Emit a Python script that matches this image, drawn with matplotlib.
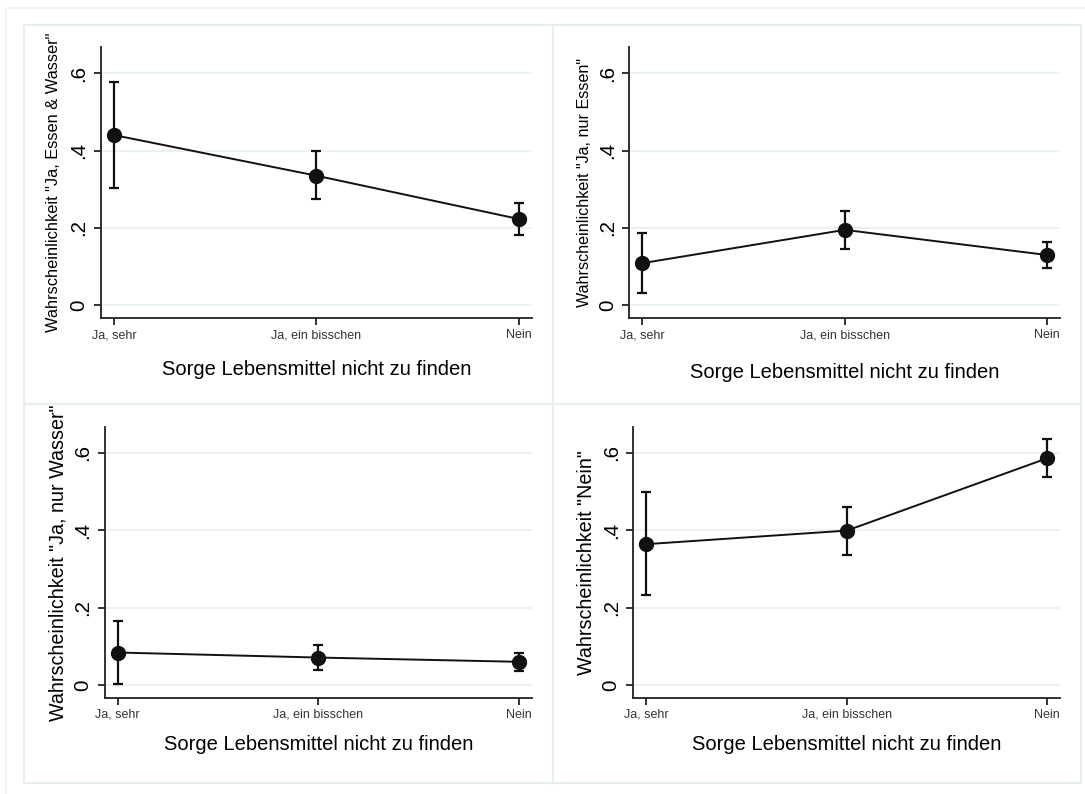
import matplotlib.pyplot as plt
from matplotlib.patches import Rectangle
import numpy as np

plt.rcParams['font.family'] = ['Liberation Sans', 'DejaVu Sans']

# data
categories = ["Ja, sehr", "Ja, ein bisschen", "Nein"]
xlabel = "Sorge Lebensmittel nicht zu finden"

ylabels = ['Wahrscheinlichkeit "Ja, Essen & Wasser"',
           'Wahrscheinlichkeit "Ja, nur Essen"',
           'Wahrscheinlichkeit "Ja, nur Wasser"',
           'Wahrscheinlichkeit "Nein"']

est_essen_wasser = [0.440, 0.335, 0.223]
lo_essen_wasser = [0.304, 0.274, 0.182]
hi_essen_wasser = [0.578, 0.398, 0.264]

est_nur_essen = [0.109, 0.195, 0.130]
lo_nur_essen = [0.031, 0.145, 0.096]
hi_nur_essen = [0.188, 0.244, 0.164]

est_nur_wasser = [0.084, 0.071, 0.060]
lo_nur_wasser = [0.003, 0.038, 0.036]
hi_nur_wasser = [0.166, 0.104, 0.084]

est_nein = [0.364, 0.399, 0.586]
lo_nein = [0.233, 0.335, 0.537]
hi_nein = [0.498, 0.461, 0.635]

yticks = [0, 0.2, 0.4, 0.6]
yticklabels = ["0", ".2", ".4", ".6"]

W, H = 1085, 794
fig = plt.figure(figsize=(W / 100, H / 100), dpi=100)

def px_rect(l, t, r, b):
    return [l / W, 1 - b / H, (r - l) / W, (b - t) / H]

frame_col = '#e6eef0'
# outer frame (only left/top edges fall inside the image) + panel frames
fig.add_artist(Rectangle((6.4 / W, -0.05), 1.1, 1.05 - 8.3 / H,
                         transform=fig.transFigure, fill=False, ec='#eef3f4', lw=1.2))
for (l, t, r, b) in [(24, 25, 553, 404), (553, 25, 1081, 404),
                     (24, 404, 553, 783), (553, 404, 1081, 783)]:
    fig.add_artist(Rectangle((l / W, 1 - b / H), (r - l) / W, (b - t) / H,
                             transform=fig.transFigure, fill=False, ec=frame_col, lw=1.5))

panels = [
    (est_essen_wasser, lo_essen_wasser, hi_essen_wasser, (100.7, 47.2, 532.1, 318.1), 11.8, -0.093, -0.155),
    (est_nur_essen, lo_nur_essen, hi_nur_essen, (629.3, 47.2, 1060.3, 318.1), 11.6, -0.086, -0.166),
    (est_nur_wasser, lo_nur_wasser, hi_nur_wasser, (104.6, 426.9, 532.1, 697.8), 14.2, -0.086, -0.137),
    (est_nein, lo_nein, hi_nein, (633.2, 426.9, 1060.3, 697.8), 14.2, -0.088, -0.137),
]

x = np.arange(len(categories))
for i, (est, lo, hi, rect, ysize, ylx, xly) in enumerate(panels):
    ax = fig.add_axes(px_rect(*rect))
    est = np.array(est)
    err = [est - np.array(lo), np.array(hi) - est]
    ax.errorbar(x, est, yerr=err, fmt='none', ecolor='#111111', elinewidth=1.6,
                capsize=3.9, capthick=1.6, zorder=3)
    ax.plot(x, est, color='#111111', lw=1.4, marker='o', ms=10, zorder=4)

    ax.set_xlim(-0.065, 2.065)
    ax.set_ylim(-0.033, 0.667)
    ax.set_yticks(yticks)
    ax.set_yticklabels(yticklabels, rotation=90, va='center', fontsize=14.8)
    ax.set_xticks(x)
    ax.set_xticklabels(categories, fontsize=9)
    ax.grid(axis='y', color='#eaf2f3', lw=1.5)
    ax.set_axisbelow(True)
    for s in ['top', 'right']:
        ax.spines[s].set_visible(False)
    for s in ['left', 'bottom']:
        ax.spines[s].set_color('#222222')
        ax.spines[s].set_linewidth(1.3)
    ax.tick_params(axis='both', direction='out', length=5, width=1.3, color='#222222')
    ax.tick_params(axis='y', pad=4)
    ax.tick_params(axis='x', pad=3, labelcolor='#333333')

    ax.set_ylabel(ylabels[i], fontsize=ysize)
    ax.yaxis.set_label_coords(ylx, 0.5)
    ax.set_xlabel(xlabel, fontsize=14.5, va='top')
    ax.xaxis.set_label_coords(0.5, xly)

plt.savefig("out.png", dpi=100)
